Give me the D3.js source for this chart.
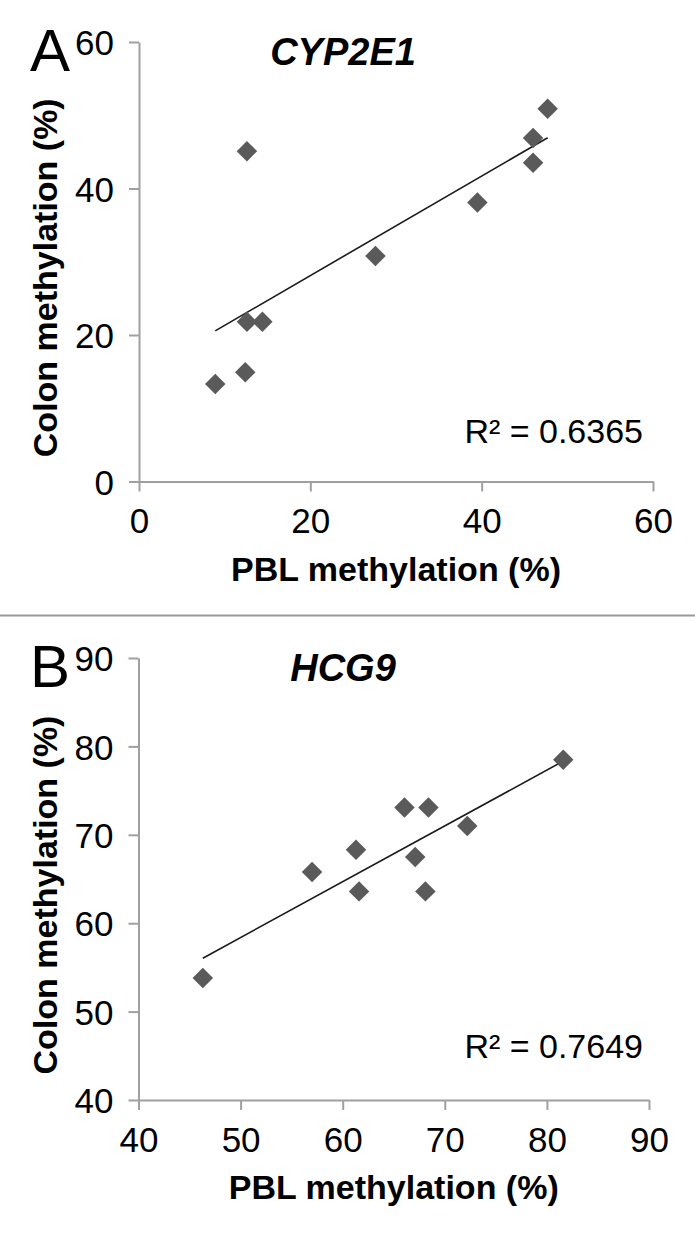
<!DOCTYPE html>
<html>
<head>
<meta charset="utf-8">
<script src="https://cdn.jsdelivr.net/npm/d3@7"></script>
<style>
  html, body { margin: 0; padding: 0; background: #fff; }
  svg { display: block; }
  text { font-family: "Liberation Sans", Arial, sans-serif; }
</style>
</head>
<body>
<svg id="chart" width="695" height="1237"></svg>
<script>
// ---- Data ----
const cypPBL   = [8.9, 12.4, 12.6, 12.6, 14.4, 27.6, 39.5, 46.0, 46.0, 47.7];
const cypColon = [13.3, 14.9, 21.8, 45.1, 21.8, 30.8, 38.1, 43.5, 46.9, 50.9];
const hcgPBL   = [46.3, 57.0, 61.3, 61.6, 66.05, 67.1, 68.1, 68.4, 72.2, 81.6];
const hcgColon = [53.8, 65.8, 68.3, 63.6, 73.1, 67.5, 63.6, 73.1, 71.0, 78.5];
const cypTicks = [0, 20, 40, 60];
const hcgTicks = [40, 50, 60, 70, 80, 90];
const panelLetters = ["A", "B"];
const geneNames = ["CYP2E1", "HCG9"];
const r2Labels = ["R\u00B2 = 0.6365", "R\u00B2 = 0.7649"];
const xTitle = "PBL methylation (%)";
const yTitle = "Colon methylation (%)";

const svg = d3.select("#chart");
const AXIS = "#a0a0a0";

function fit(xs, ys) {
  const n = xs.length, mx = d3.mean(xs), my = d3.mean(ys);
  let sxy = 0, sxx = 0;
  for (let i = 0; i < n; i++) { sxy += (xs[i]-mx)*(ys[i]-my); sxx += (xs[i]-mx)**2; }
  const b = sxy / sxx;
  return { b, a: my - b*mx };
}

function panel(cfg) {
  const g = svg.append("g");
  const x = d3.scaleLinear().domain(cfg.domain).range([cfg.left, cfg.right]);
  const y = d3.scaleLinear().domain(cfg.domain).range([cfg.bottom, cfg.top]);

  const xAxis = g.append("g").attr("transform", `translate(0,${cfg.bottom})`)
    .call(d3.axisBottom(x).tickValues(cfg.ticks).tickSize(10).tickPadding(17).tickSizeOuter(0));
  const yAxis = g.append("g").attr("transform", `translate(${cfg.left},0)`)
    .call(d3.axisLeft(y).tickValues(cfg.ticks).tickSize(10).tickPadding(15).tickSizeOuter(0));
  [xAxis, yAxis].forEach(a => {
    a.select(".domain").attr("stroke", AXIS).attr("stroke-width", 2);
    a.selectAll(".tick line").attr("stroke", AXIS).attr("stroke-width", 2);
    a.selectAll(".tick text").attr("fill", "#000").style("font-size", "35px");
  });
  xAxis.selectAll(".tick text").attr("dy", "0.71em");
  yAxis.selectAll(".tick text").attr("dy", "0.36em");

  // trendline
  const f = fit(cfg.xs, cfg.ys);
  const x0 = d3.min(cfg.xs), x1 = d3.max(cfg.xs);
  g.append("line")
    .attr("x1", x(x0)).attr("y1", y(f.a + f.b*x0))
    .attr("x2", x(x1)).attr("y2", y(f.a + f.b*x1))
    .attr("stroke", "#1a1a1a").attr("stroke-width", 1.6);

  // markers
  const sym = d3.symbol().type(d3.symbolSquare).size(210);
  g.selectAll("path.pt").data(cfg.xs.map((v, i) => [v, cfg.ys[i]])).join("path")
    .attr("class", "pt")
    .attr("d", sym)
    .attr("transform", d => `translate(${x(d[0])},${y(d[1])}) rotate(45)`)
    .attr("fill", "#5a5a5a");

  // texts
  g.append("text").attr("x", 30).attr("y", cfg.top + 29)
    .style("font-size", "60px").text(cfg.letter);
  g.append("text").attr("x", 343).attr("y", cfg.top + 23).attr("text-anchor", "middle")
    .style("font-size", "38px").style("font-weight", "bold").style("font-style", "italic")
    .text(cfg.gene);
  g.append("text").attr("x", 643).attr("y", cfg.r2y).attr("text-anchor", "end")
    .style("font-size", "34px").text(cfg.r2);
  g.append("text").attr("x", (cfg.left + cfg.right)/2).attr("y", cfg.bottom + 99)
    .attr("text-anchor", "middle")
    .style("font-size", "34px").style("font-weight", "bold").text(xTitle);
  g.append("text")
    .attr("transform", `translate(57,${(cfg.top + cfg.bottom)/2 + 16}) rotate(-90)`)
    .attr("text-anchor", "middle")
    .style("font-size", "34px").style("font-weight", "bold").text(yTitle);
}

panel({ domain: [0, 60], ticks: cypTicks, left: 139, right: 653, top: 42, bottom: 481.5,
        xs: cypPBL, ys: cypColon, letter: panelLetters[0], gene: geneNames[0], r2: r2Labels[0], r2y: 443 });
panel({ domain: [40, 90], ticks: hcgTicks, left: 138.5, right: 649, top: 658, bottom: 1100,
        xs: hcgPBL, ys: hcgColon, letter: panelLetters[1], gene: geneNames[1], r2: r2Labels[1], r2y: 1058 });

// separator
svg.append("line").attr("x1", 0).attr("x2", 695).attr("y1", 615.5).attr("y2", 615.5)
  .attr("stroke", "#999").attr("stroke-width", 2);
</script>
</body>
</html>
